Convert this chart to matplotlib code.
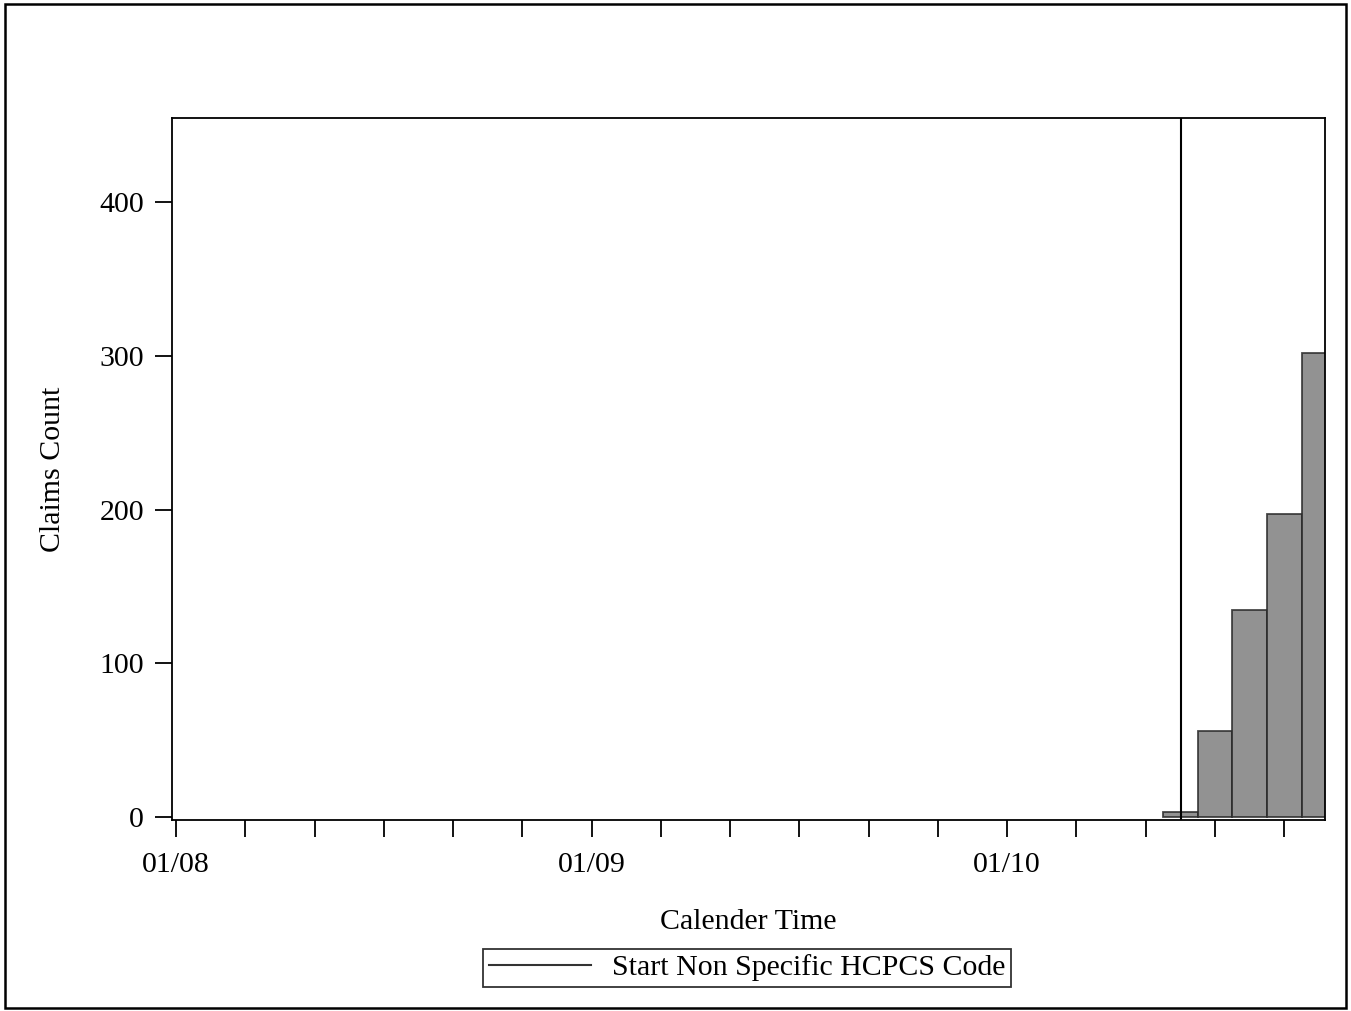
import matplotlib
matplotlib.use("Agg")
import matplotlib.pyplot as plt
from matplotlib.patches import Rectangle
from matplotlib.lines import Line2D

# months counted from 01/08 (Jan 2008)
bar_months = [29, 30, 31, 32, 33]
claims = [3.5, 56, 135, 197, 302]
start_code_month = 29.03
tick_months = list(range(0, 33, 2))
tick_labels = {0: "01/08", 12: "01/09", 24: "01/10"}

plt.rcParams['font.family'] = ['Liberation Serif', 'DejaVu Serif']

fig = plt.figure(figsize=(13.51, 10.11), dpi=100)
ax = fig.add_axes([0.1273, 0.1889, 0.8535, 0.6944])

ax.bar(bar_months, claims, width=1.0, color='#7f7f7f', alpha=0.85,
       edgecolor='#2a2a2a', linewidth=1.3, zorder=2)
ax.axvline(start_code_month, color='black', linewidth=1.5, zorder=3)

ax.set_xlim(-0.12, 33.18)
ax.set_ylim(-2, 455)
ax.set_xticks(tick_months)
ax.set_xticklabels([tick_labels.get(m, "") for m in tick_months])
ax.set_yticks([0, 100, 200, 300, 400])
ax.tick_params(direction='out', length=12, width=1.3, labelsize=21.5)
ax.tick_params(axis='x', pad=11)
ax.tick_params(axis='y', pad=8)
for s in ax.spines.values():
    s.set_linewidth(1.3)

ax.set_xlabel("Calender Time", fontsize=21.5, labelpad=22)
ax.set_ylabel("Claims Count", fontsize=21.5, labelpad=24)

handle = Line2D([], [], color='#333333', linewidth=1.5)
leg = fig.legend([handle], ["Start Non Specific HCPCS Code"], loc='center',
                 bbox_to_anchor=(747 / 1351, 1 - 968 / 1011), fontsize=21.5,
                 frameon=True, fancybox=False, edgecolor='black',
                 handlelength=3.4, borderpad=0.2, handletextpad=0.7)
leg.get_frame().set_linewidth(1.3)

fig.patches.append(Rectangle((0.004, 0.003), 0.992, 0.993, transform=fig.transFigure,
                             fill=False, edgecolor='black', linewidth=1.8))

fig.savefig("out.png", dpi=100)
